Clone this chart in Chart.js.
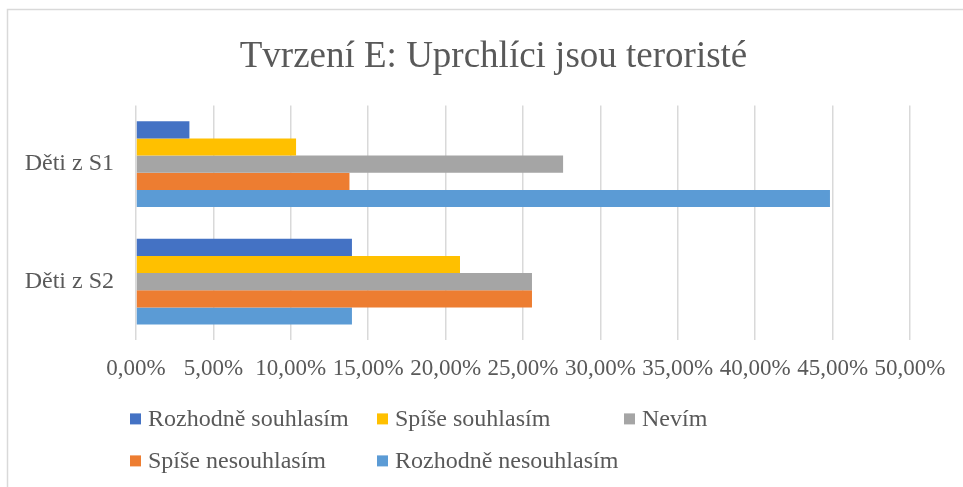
<!DOCTYPE html>
<html>
<head>
<meta charset="utf-8">
<script src="https://cdn.jsdelivr.net/npm/chart.js@4/dist/chart.umd.min.js"></script>
<style>
  html, body { margin: 0; padding: 0; background: #fff; }
  #wrap { position: relative; width: 963px; height: 487px; }
</style>
</head>
<body>
<div id="wrap"><canvas id="c" width="963" height="487"></canvas></div>
<script>
const titleText = 'Tvrzení E: Uprchlíci jsou teroristé';
const categories = ['Děti z S1', 'Děti z S2'];
const seriesNames = ['Rozhodně souhlasím', 'Spíše souhlasím', 'Nevím', 'Spíše nesouhlasím', 'Rozhodně nesouhlasím'];
const seriesColors = ['#4472C4', '#FFC000', '#A5A5A5', '#ED7D31', '#5B9BD5'];
const rozhodneSouhlasim = [3.45, 13.95];
const spiseSouhlasim = [10.34, 20.93];
const nevim = [27.59, 25.58];
const spiseNesouhlasim = [13.79, 25.58];
const rozhodneNesouhlasim = [44.83, 13.95];
const xTicks = [0, 5, 10, 15, 20, 25, 30, 35, 40, 45, 50];

const seriesValues = [rozhodneSouhlasim, spiseSouhlasim, nevim, spiseNesouhlasim, rozhodneNesouhlasim];
const TEXT = '#595959';
const FONT = "'Liberation Serif', 'Times New Roman', serif";

const framePlugin = {
  id: 'frame',
  beforeDraw(chart) {
    const ctx = chart.ctx;
    ctx.save();
    ctx.fillStyle = '#fff';
    ctx.fillRect(0, 0, chart.width, chart.height);
    ctx.strokeStyle = '#d9d9d9';
    ctx.lineWidth = 1.5;
    ctx.strokeRect(7.5, 9.5, chart.width + 20, chart.height + 20);
    ctx.restore();
  }
};

const gridLegend = {
  id: 'gridLegend',
  afterDraw(chart) {
    const ctx = chart.ctx;
    const area = chart.chartArea;
    const colW = 247;
    const x0 = area.left - 6;
    const rowBase = [area.bottom + 86, area.bottom + 128];
    ctx.save();
    ctx.font = "24px " + FONT;
    ctx.textBaseline = 'alphabetic';
    ctx.textAlign = 'left';
    chart.data.datasets.forEach((ds, i) => {
      const col = i % 3, row = Math.floor(i / 3);
      const bx = x0 + col * colW;
      const by = rowBase[row];
      ctx.fillStyle = ds.backgroundColor;
      ctx.fillRect(bx, by - 13, 11, 11);
      ctx.fillStyle = TEXT;
      ctx.fillText(ds.label, bx + 18, by);
    });
    ctx.restore();
  }
};

new Chart(document.getElementById('c'), {
  type: 'bar',
  data: {
    labels: categories,
    datasets: seriesNames.map((name, i) => ({
      label: name,
      data: seriesValues[i],
      backgroundColor: seriesColors[i],
      borderWidth: 0,
      categoryPercentage: 0.73,
      barPercentage: 1.0
    }))
  },
  options: {
    indexAxis: 'y',
    responsive: false,
    animation: false,
    devicePixelRatio: 1,
    layout: { padding: { left: 24, right: 0, top: 0, bottom: 89 } },
    plugins: {
      legend: { display: false },
      tooltip: { enabled: false },
      title: {
        display: true,
        text: titleText,
        color: TEXT,
        font: { family: FONT, size: 37, weight: 'normal', lineHeight: 1.2 },
        padding: { top: 35, bottom: 26 }
      }
    },
    scales: {
      x: {
        min: 0,
        max: 50,
        afterBuildTicks(scale) { scale.ticks = xTicks.map(v => ({ value: v })); },
        afterFit(scale) { scale.paddingRight = 53; scale.paddingLeft = 0; },
        grid: { color: '#d9d9d9', lineWidth: 1.5, drawTicks: false },
        border: { display: false },
        ticks: {
          color: TEXT,
          padding: 15,
          maxRotation: 0,
          autoSkip: false,
          font: { family: FONT, size: 23, lineHeight: 1.2 },
          callback: v => v.toFixed(2).replace('.', ',') + '%'
        }
      },
      y: {
        afterFit(scale) { scale.width = 112; },
        grid: { display: false, drawTicks: false },
        border: { display: false },
        ticks: {
          color: TEXT,
          padding: 22,
          font: { family: FONT, size: 24, lineHeight: 1.2 }
        }
      }
    }
  },
  plugins: [framePlugin, gridLegend]
});
</script>
</body>
</html>
